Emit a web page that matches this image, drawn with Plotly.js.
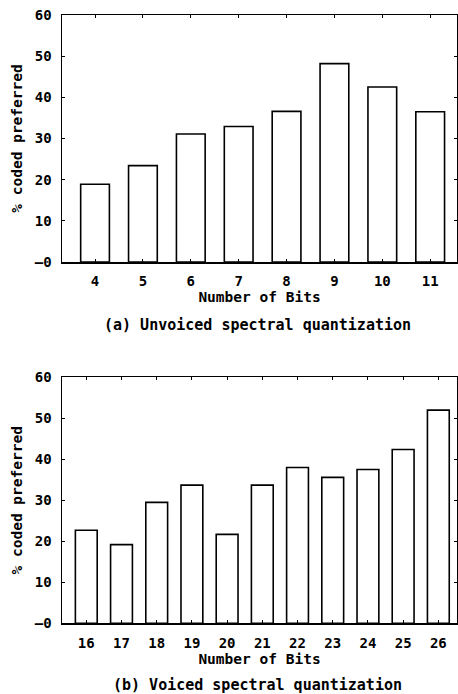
<!DOCTYPE html>
<html>
<head>
<meta charset="utf-8">
<script src="https://cdn.plot.ly/plotly-3.0.1.min.js"></script>
<style>html,body{margin:0;padding:0;background:#fff;}#chart{width:458px;height:694px;}</style>
</head>
<body>
<div id="chart"></div>
<script>
// Data
const bitsA = [4, 5, 6, 7, 8, 9, 10, 11];
const prefA = [18.9, 23.4, 31.1, 32.9, 36.6, 48.2, 42.5, 36.5];
const bitsB = [16, 17, 18, 19, 20, 21, 22, 23, 24, 25, 26];
const prefB = [22.7, 19.2, 29.5, 33.7, 21.7, 33.7, 38.0, 35.6, 37.5, 42.4, 52.0];
const yTickVals = [0, 10, 20, 30, 40, 50, 60];
const yTickText = ['\u20130', '10', '20', '30', '40', '50', '60'];
const xTitle = 'Number of Bits';
const yTitle = '% coded preferred';
const captionA = '(a) Unvoiced spectral quantization';
const captionB = '(b) Voiced spectral quantization';

const FONT = '"DejaVu Sans Mono", monospace';
const tickF = {family: FONT, size: 14, color: '#000', weight: 'bold'};
const titleF = {family: FONT, size: 14.5, color: '#000', weight: 'bold'};
const capF = {family: FONT, size: 15, color: '#000', weight: 'bold'};

const barStyle = {color: '#fff', line: {color: '#000', width: 1.6}};

const traces = [
  {type: 'bar', x: bitsA, y: prefA, width: 0.6, marker: barStyle, xaxis: 'x', yaxis: 'y', hoverinfo: 'skip'},
  {type: 'bar', x: bitsB, y: prefB, width: 0.62, marker: barStyle, xaxis: 'x2', yaxis: 'y2', hoverinfo: 'skip'}
];

function xa(range, vals, anchor) {
  return {
    anchor: anchor, range: range, tickvals: vals, ticktext: vals.map(String),
    domain: [62 / 458, 457 / 458],
    showline: true, linecolor: '#000', linewidth: 1.5, mirror: 'ticks',
    ticks: 'inside', ticklen: 3, tickcolor: '#000', tickwidth: 1,
    showgrid: false, zeroline: false, tickfont: tickF, ticklabelstandoff: 6,
    title: {text: xTitle, font: titleF, standoff: 3}
  };
}
function ya(domain, anchor) {
  return {
    anchor: anchor, range: [0, 60], tickvals: yTickVals, ticktext: yTickText,
    domain: domain,
    showline: true, linecolor: '#000', linewidth: 1.5, mirror: 'ticks',
    ticks: 'inside', ticklen: 3, tickcolor: '#000', tickwidth: 1,
    showgrid: false, zeroline: false, tickfont: tickF, ticklabelstandoff: 6,
    title: {text: yTitle, font: titleF, standoff: 9}
  };
}

const layout = {
  width: 458, height: 694,
  margin: {l: 0, r: 0, t: 0, b: 0},
  paper_bgcolor: '#fff', plot_bgcolor: '#fff',
  showlegend: false, bargap: 0.4,
  xaxis: xa([3.31, 11.56], bitsA, 'y'),
  yaxis: ya([(694 - 262) / 694, (694 - 15) / 694], 'x'),
  xaxis2: xa([15.31, 26.53], bitsB, 'y2'),
  yaxis2: ya([(694 - 623.3) / 694, (694 - 377.3) / 694], 'x2'),
  annotations: [
    {text: captionA, xref: 'paper', yref: 'paper', x: 257 / 458, y: (694 - 325) / 694, xanchor: 'center', yanchor: 'middle', showarrow: false, font: capF},
    {text: captionB, xref: 'paper', yref: 'paper', x: 257 / 458, y: (694 - 685) / 694, xanchor: 'center', yanchor: 'middle', showarrow: false, font: capF}
  ]
};

Plotly.newPlot('chart', traces, layout, {staticPlot: true, displayModeBar: false});
</script>
</body>
</html>
